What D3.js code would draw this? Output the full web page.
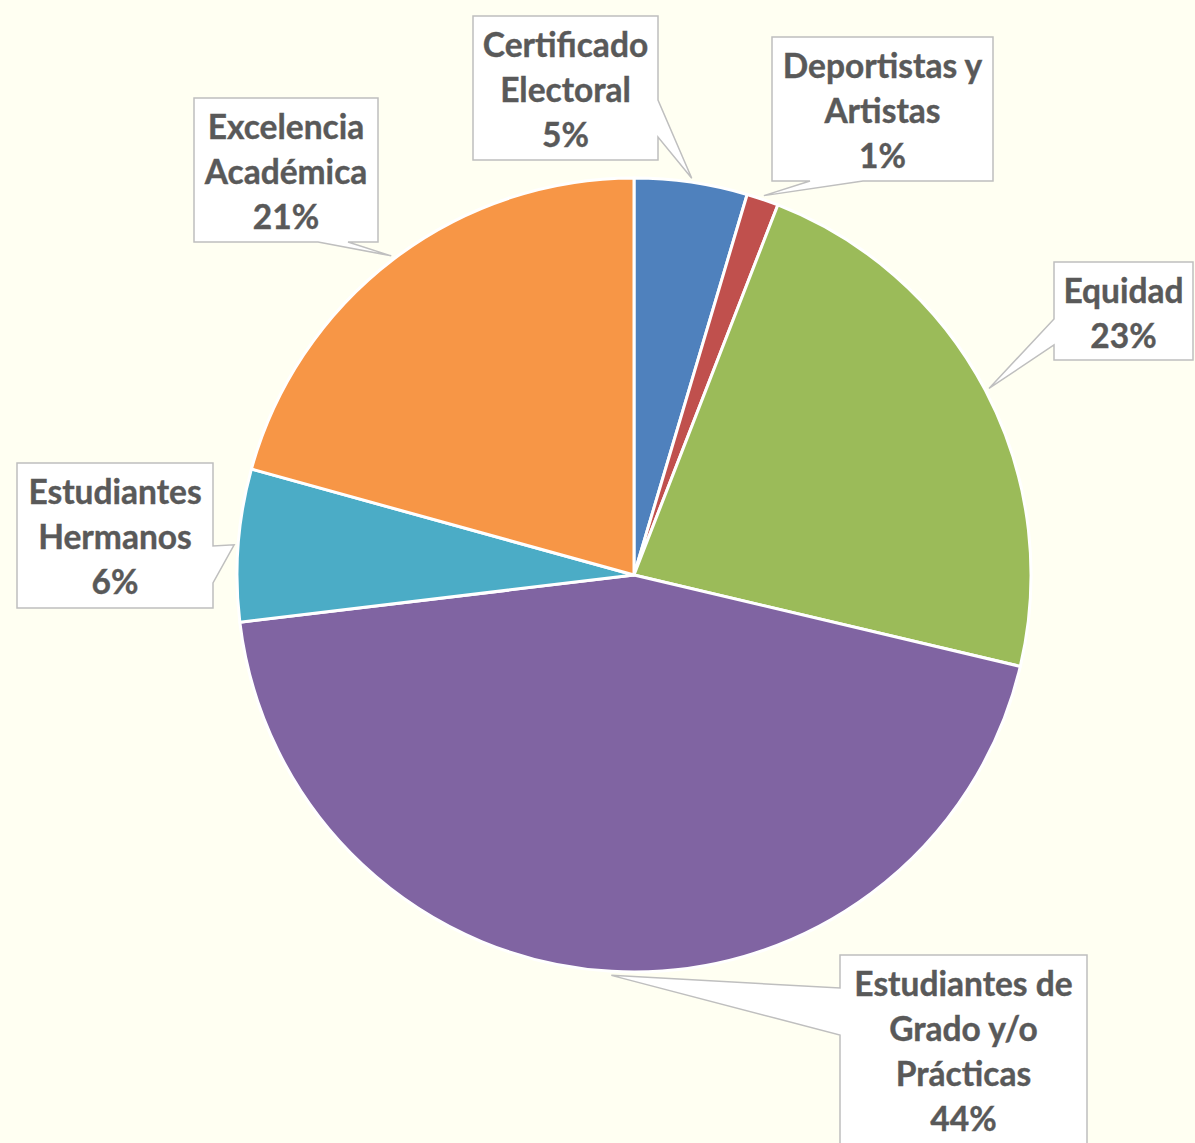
<!DOCTYPE html>
<html>
<head>
<meta charset="utf-8">
<script src="https://cdn.jsdelivr.net/npm/d3@7"></script>
<style>
  html, body { margin: 0; padding: 0; background: #FFFFF2; }
  svg { display: block; }
</style>
</head>
<body>
<script>
// Share of scholarships by type (percent)
const categories = [
  "Certificado Electoral",
  "Deportistas y Artistas",
  "Equidad",
  "Estudiantes de Grado y/o Prácticas",
  "Estudiantes Hermanos",
  "Excelencia Académica"
];
const values = [4.6, 1.3, 22.8, 44.4, 6.2, 20.7];
const colors = ["#4F81BD", "#C0504D", "#9BBB59", "#8064A2", "#4BACC6", "#F79646"];

// Label text lines (category name wrapped as in the callouts)
const labelLines = [
  ["Certificado", "Electoral"],
  ["Deportistas y", "Artistas"],
  ["Equidad"],
  ["Estudiantes de", "Grado y/o", "Prácticas"],
  ["Estudiantes", "Hermanos"],
  ["Excelencia", "Académica"]
];

// Callout box geometry: box rect, side carrying the pointer, pointer base offsets along that side
const callouts = [
  { x: 473, y: 16,  w: 185, h: 144, side: "right",  a: 84, b: 121 },
  { x: 772, y: 37,  w: 221, h: 144, side: "bottom", a: 38, b: 91 },
  { x: 1054, y: 262, w: 139, h: 98, side: "left",  a: 57, b: 83 },
  { x: 840, y: 955, w: 247, h: 200, side: "left",  a: 33, b: 80 },
  { x: 17,  y: 463, w: 196, h: 145, side: "right",  a: 83, b: 120 },
  { x: 194, y: 98,  w: 184, h: 144, side: "bottom", a: 124, b: 154 }
];

const W = 1195, H = 1143;
const cx = 634, cy = 575, R = 397;

const svg = d3.select("body").append("svg")
  .attr("width", W).attr("height", H);

svg.append("rect").attr("width", W).attr("height", H).attr("fill", "#FFFFF2");

const total = d3.sum(values);
const pie = d3.pie().sort(null).value(d => d)(values);
const arc = d3.arc().innerRadius(0).outerRadius(R);

const g = svg.append("g").attr("transform", `translate(${cx},${cy})`);

g.selectAll("path.slice")
  .data(pie)
  .join("path")
  .attr("class", "slice")
  .attr("d", arc)
  .attr("fill", (d, i) => colors[i])
  .attr("stroke", "#FFFFFF")
  .attr("stroke-width", 3)
  .attr("stroke-linejoin", "round");

const pct = d3.format(".0%");

// Callout path: rectangle with a pointer wedge toward the slice
function calloutPath(c, tip) {
  const x0 = c.x, y0 = c.y, x1 = c.x + c.w, y1 = c.y + c.h;
  const p = d3.path();
  p.moveTo(x0, y0);
  p.lineTo(x1, y0);
  if (c.side === "right") {
    p.lineTo(x1, y0 + c.a); p.lineTo(tip[0], tip[1]); p.lineTo(x1, y0 + c.b);
  }
  p.lineTo(x1, y1);
  if (c.side === "bottom") {
    p.lineTo(x0 + c.b, y1); p.lineTo(tip[0], tip[1]); p.lineTo(x0 + c.a, y1);
  }
  p.lineTo(x0, y1);
  if (c.side === "left") {
    p.lineTo(x0, y0 + c.b); p.lineTo(tip[0], tip[1]); p.lineTo(x0, y0 + c.a);
  }
  p.closePath();
  return p.toString();
}

const labels = svg.append("g");

pie.forEach((d, i) => {
  const c = callouts[i];
  const mid = (d.startAngle + d.endAngle) / 2;
  const rt = R + 4;
  const tip = [cx + rt * Math.sin(mid), cy - rt * Math.cos(mid)];

  labels.append("path")
    .attr("d", calloutPath(c, tip))
    .attr("fill", "#FFFFFF")
    .attr("stroke", "#BFBFBF")
    .attr("stroke-width", 1.5)
    .attr("stroke-linejoin", "miter");

  const lines = labelLines[i].concat([pct(d.data / total)]);
  const t = labels.append("text")
    .attr("x", c.x + c.w / 2)
    .attr("text-anchor", "middle")
    .attr("font-family", "Lato, 'Open Sans', sans-serif")
    .attr("font-weight", "bold")
    .attr("font-size", 33.5)
    .attr("fill", "#595959")
    .attr("stroke", "#595959")
    .attr("stroke-width", 0.4);
  lines.forEach((ln, k) => {
    t.append("tspan")
      .attr("x", c.x + c.w / 2)
      .attr("y", c.y + 41 + k * 45)
      .text(ln);
  });
});
</script>
</body>
</html>
